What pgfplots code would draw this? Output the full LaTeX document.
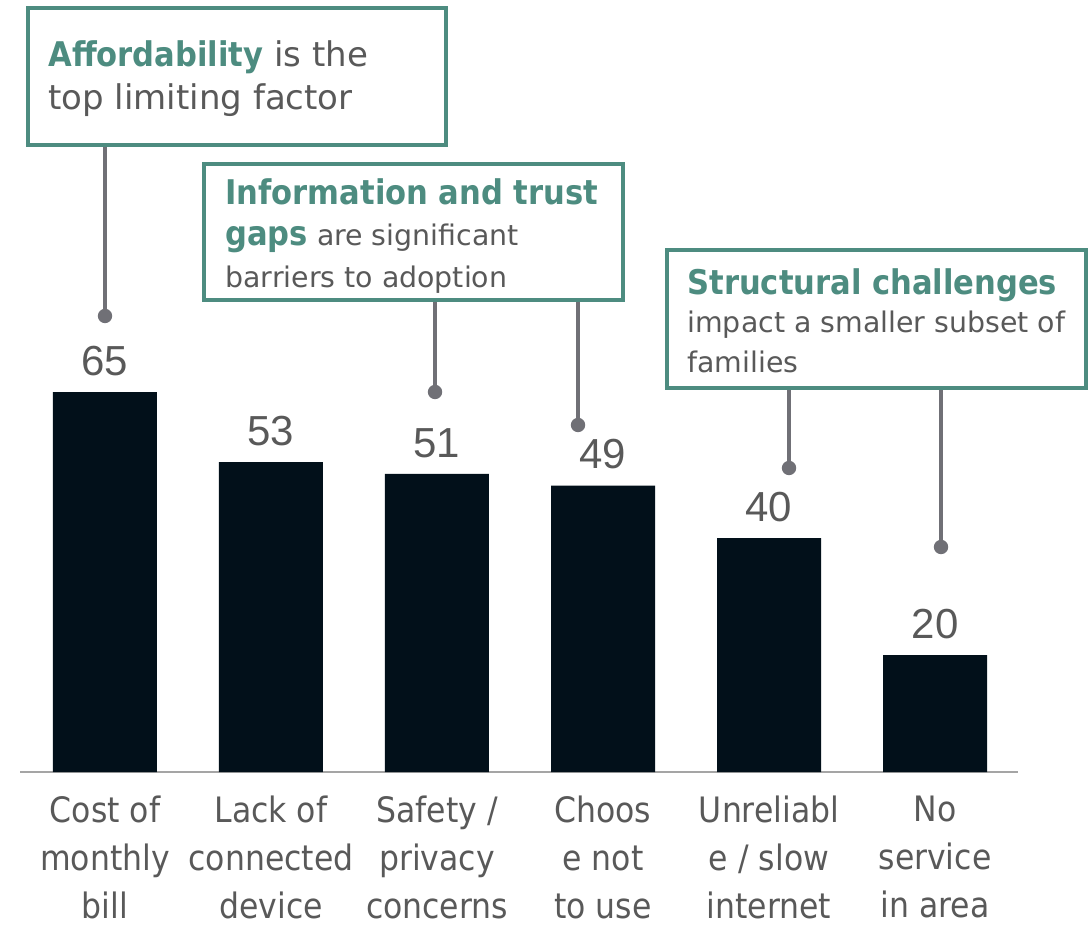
\documentclass[border=0pt]{standalone}
\usepackage{pgfplots}
\pgfplotsset{compat=1.18}
\usepackage{fontspec}
\setmainfont{DejaVu Sans}
\newfontfamily\condfont{DejaVu Sans Condensed}
\newfontfamily\numfont{Liberation Sans}

\definecolor{bardark}{RGB}{2,16,26}
\definecolor{calloutteal}{RGB}{77,140,128}
\definecolor{txtgray}{RGB}{89,89,89}
\definecolor{linkgray}{RGB}{112,112,118}
\definecolor{axisgray}{RGB}{165,165,165}

\begin{document}
\begin{tikzpicture}
\useasboundingbox (-10pt,-77pt) rectangle (536pt,386pt);
\begin{axis}[
    width=499pt, height=386pt, scale only axis,
    xmin=-0.512, xmax=5.5, ymin=0, ymax=132.06,
    clip=false,
    axis x line*=bottom, axis y line=none,
    x axis line style={draw=axisgray, line width=1pt},
    ytick=\empty,
    xtick={0,1,2,3,4,5},
    xticklabels={
        {Cost of\\monthly\\bill},
        {Lack of\\connected\\device},
        {Safety /\\privacy\\concerns},
        {Choos\\e not\\to use},
        {Unreliabl\\e / slow\\internet},
        {No\\service\\in area}
    },
    major tick length=0pt,
    xticklabel style={font=\condfont\fontsize{17.5}{24}\selectfont, text=txtgray,
        align=center, anchor=north, inner sep=0pt, yshift=-12pt},
    ybar, bar width=52pt, bar shift=0pt,
    nodes near coords,
    /pgf/number format/assume math mode=true,
    every node near coord/.append style={font=\numfont\fontsize{21}{25}\selectfont,
        text=txtgray, anchor=south, inner sep=0pt, yshift=8pt},
]
\addplot[fill=bardark, draw=none] coordinates {
    (0,65) (1,53) (2,51) (3,49) (4,40) (5,20)
};
\end{axis}

% callouts, in pixel units of the reference (origin top left)
\begin{scope}[x=0.5pt, y=-0.5pt, shift={(-10pt,386pt)}]
  % connectors
  \begin{scope}[linkgray, line width=1.8pt]
    \draw (105,145) -- (105,316);
    \draw (435,300) -- (435,392);
    \draw (578,300) -- (578,425);
    \draw (789,388) -- (789,468);
    \draw (941,388) -- (941,547);
    \fill (105,316) circle[radius=3.6pt];
    \fill (435,392) circle[radius=3.6pt];
    \fill (578,425) circle[radius=3.6pt];
    \fill (789,468) circle[radius=3.6pt];
    \fill (941,547) circle[radius=3.6pt];
  \end{scope}
  % boxes
  \filldraw[draw=calloutteal, fill=white, line width=1.8pt] (28,8) rectangle (446,145);
  \filldraw[draw=calloutteal, fill=white, line width=1.8pt] (204,164) rectangle (623,300);
  \filldraw[draw=calloutteal, fill=white, line width=1.8pt] (667,250) rectangle (1086,388);
  % texts
  \begin{scope}[every node/.style={anchor=base west, inner sep=0pt, text=txtgray}]
    \node[font=\fontsize{17}{20}\selectfont] at (48,67)
      {{\condfont\bfseries\color{calloutteal}Affordability} is the};
    \node[font=\fontsize{17}{20}\selectfont] at (48,110) {top limiting factor};
    \node[font=\condfont\bfseries\fontsize{17}{20}\selectfont, text=calloutteal] at (225,205)
      {Information and trust};
    \node[font=\fontsize{14.2}{18}\selectfont] at (225,246)
      {{\condfont\bfseries\fontsize{17}{20}\selectfont\color{calloutteal}gaps} are significant};
    \node[font=\fontsize{14.2}{18}\selectfont] at (225,288) {barriers to adoption};
    \node[font=\condfont\bfseries\fontsize{17}{20}\selectfont, text=calloutteal] at (687,295)
      {Structural challenges};
    \node[font=\fontsize{14.2}{18}\selectfont] at (687,333) {impact a smaller subset of};
    \node[font=\fontsize{14.2}{18}\selectfont] at (687,373) {families};
  \end{scope}
\end{scope}
\end{tikzpicture}
\end{document}
